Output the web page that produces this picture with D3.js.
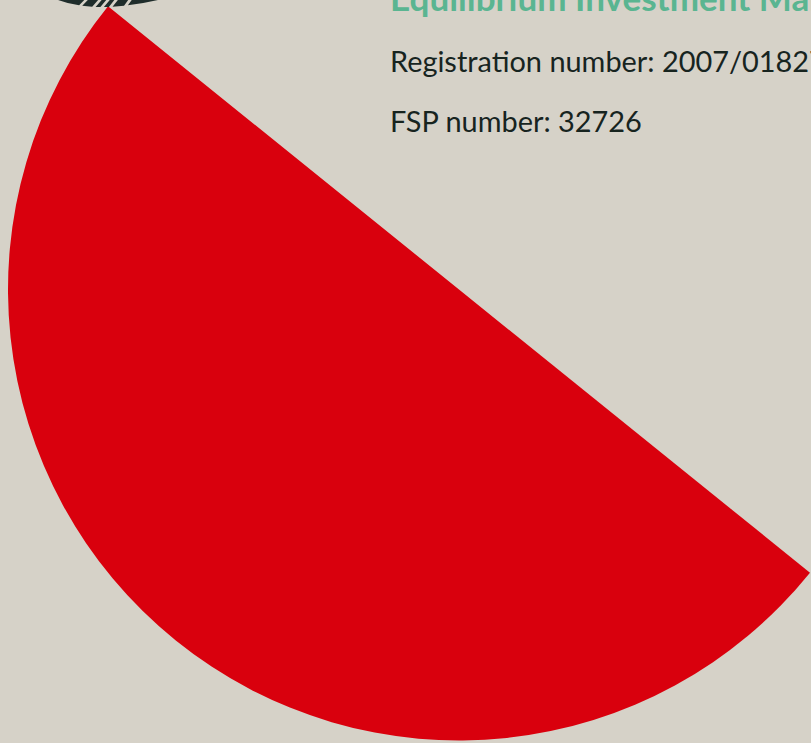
<!DOCTYPE html>
<html>
<head>
<meta charset="utf-8">
<script src="https://cdn.jsdelivr.net/npm/d3@7/dist/d3.min.js"></script>
<style>
html,body{margin:0;padding:0;background:#d6d2c8;overflow:hidden;}
svg{display:block;}
</style>
</head>
<body>
<svg id="chart" width="811" height="743"></svg>
<script>
// ---- data ----
const categories = ["Share", "Remainder"];
const values = [50, 50];
const sliceColors = ["#d9000d", "none"];
const ringValues = [5, 2, 1, 1, 2, 5];
const titleText = "Equilibrium Investment Management (Pty) Ltd";
const infoLines = ["Registration number: 2007/018275/07", "FSP number: 32726"];

// ---- layout ----
const W = 811, H = 743;
const svg = d3.select("#chart");
svg.append("rect").attr("width", W).attr("height", H).attr("fill", "#d6d2c8");

const cx = 459, cy = 289.5, R = 451;
const startA = 128.9 * Math.PI / 180;

const pie = d3.pie().sort(null).value(d => d).startAngle(startA).endAngle(startA + 2 * Math.PI);
const arc = d3.arc().innerRadius(0).outerRadius(R);

const g = svg.append("g").attr("transform", `translate(${cx},${cy})`);
g.selectAll("path.slice").data(pie(values)).join("path")
  .attr("class", "slice")
  .attr("d", arc)
  .attr("fill", (d, i) => sliceColors[i]);

// dark logo ring at the top-left (partially off-canvas), slanted cuts
const ringPie = d3.pie().sort(null).value(d => d)
  .startAngle(Math.PI - 0.30).endAngle(Math.PI + 0.30).padAngle(0.014);
const ringArc = d3.arc().innerRadius(175).outerRadius(182);
svg.append("g").attr("transform", "translate(108,0) skewX(-40) translate(0,-175)")
  .selectAll("path").data(ringPie(ringValues)).join("path")
  .attr("d", ringArc)
  .attr("fill", "#1f2d2b");

// ---- text ----
function fitText(sel, target) {
  const w = sel.node().getComputedTextLength();
  const fs = parseFloat(sel.attr("font-size"));
  sel.attr("font-size", fs * target / w);
}

const title = svg.append("text")
  .attr("x", 390).attr("y", 11)
  .attr("font-family", "Lato, 'Open Sans', sans-serif")
  .attr("font-weight", "bold")
  .attr("font-size", 30)
  .attr("fill", "#5ab591")
  .text("Equilibrium Investment M");
fitText(title, 402);
title.text(titleText);

const l1 = svg.append("text")
  .attr("x", 390).attr("y", 72)
  .attr("font-family", "Lato, 'Open Sans', sans-serif")
  .attr("font-size", 26)
  .attr("fill", "#17241f")
  .text(infoLines[1]);
fitText(l1, 252);
const fs = l1.attr("font-size");
l1.text(infoLines[0]);
const l2 = svg.append("text")
  .attr("x", 390).attr("y", 132)
  .attr("font-family", "Lato, 'Open Sans', sans-serif")
  .attr("font-size", fs)
  .attr("fill", "#17241f")
  .text(infoLines[1]);
</script>
</body>
</html>
